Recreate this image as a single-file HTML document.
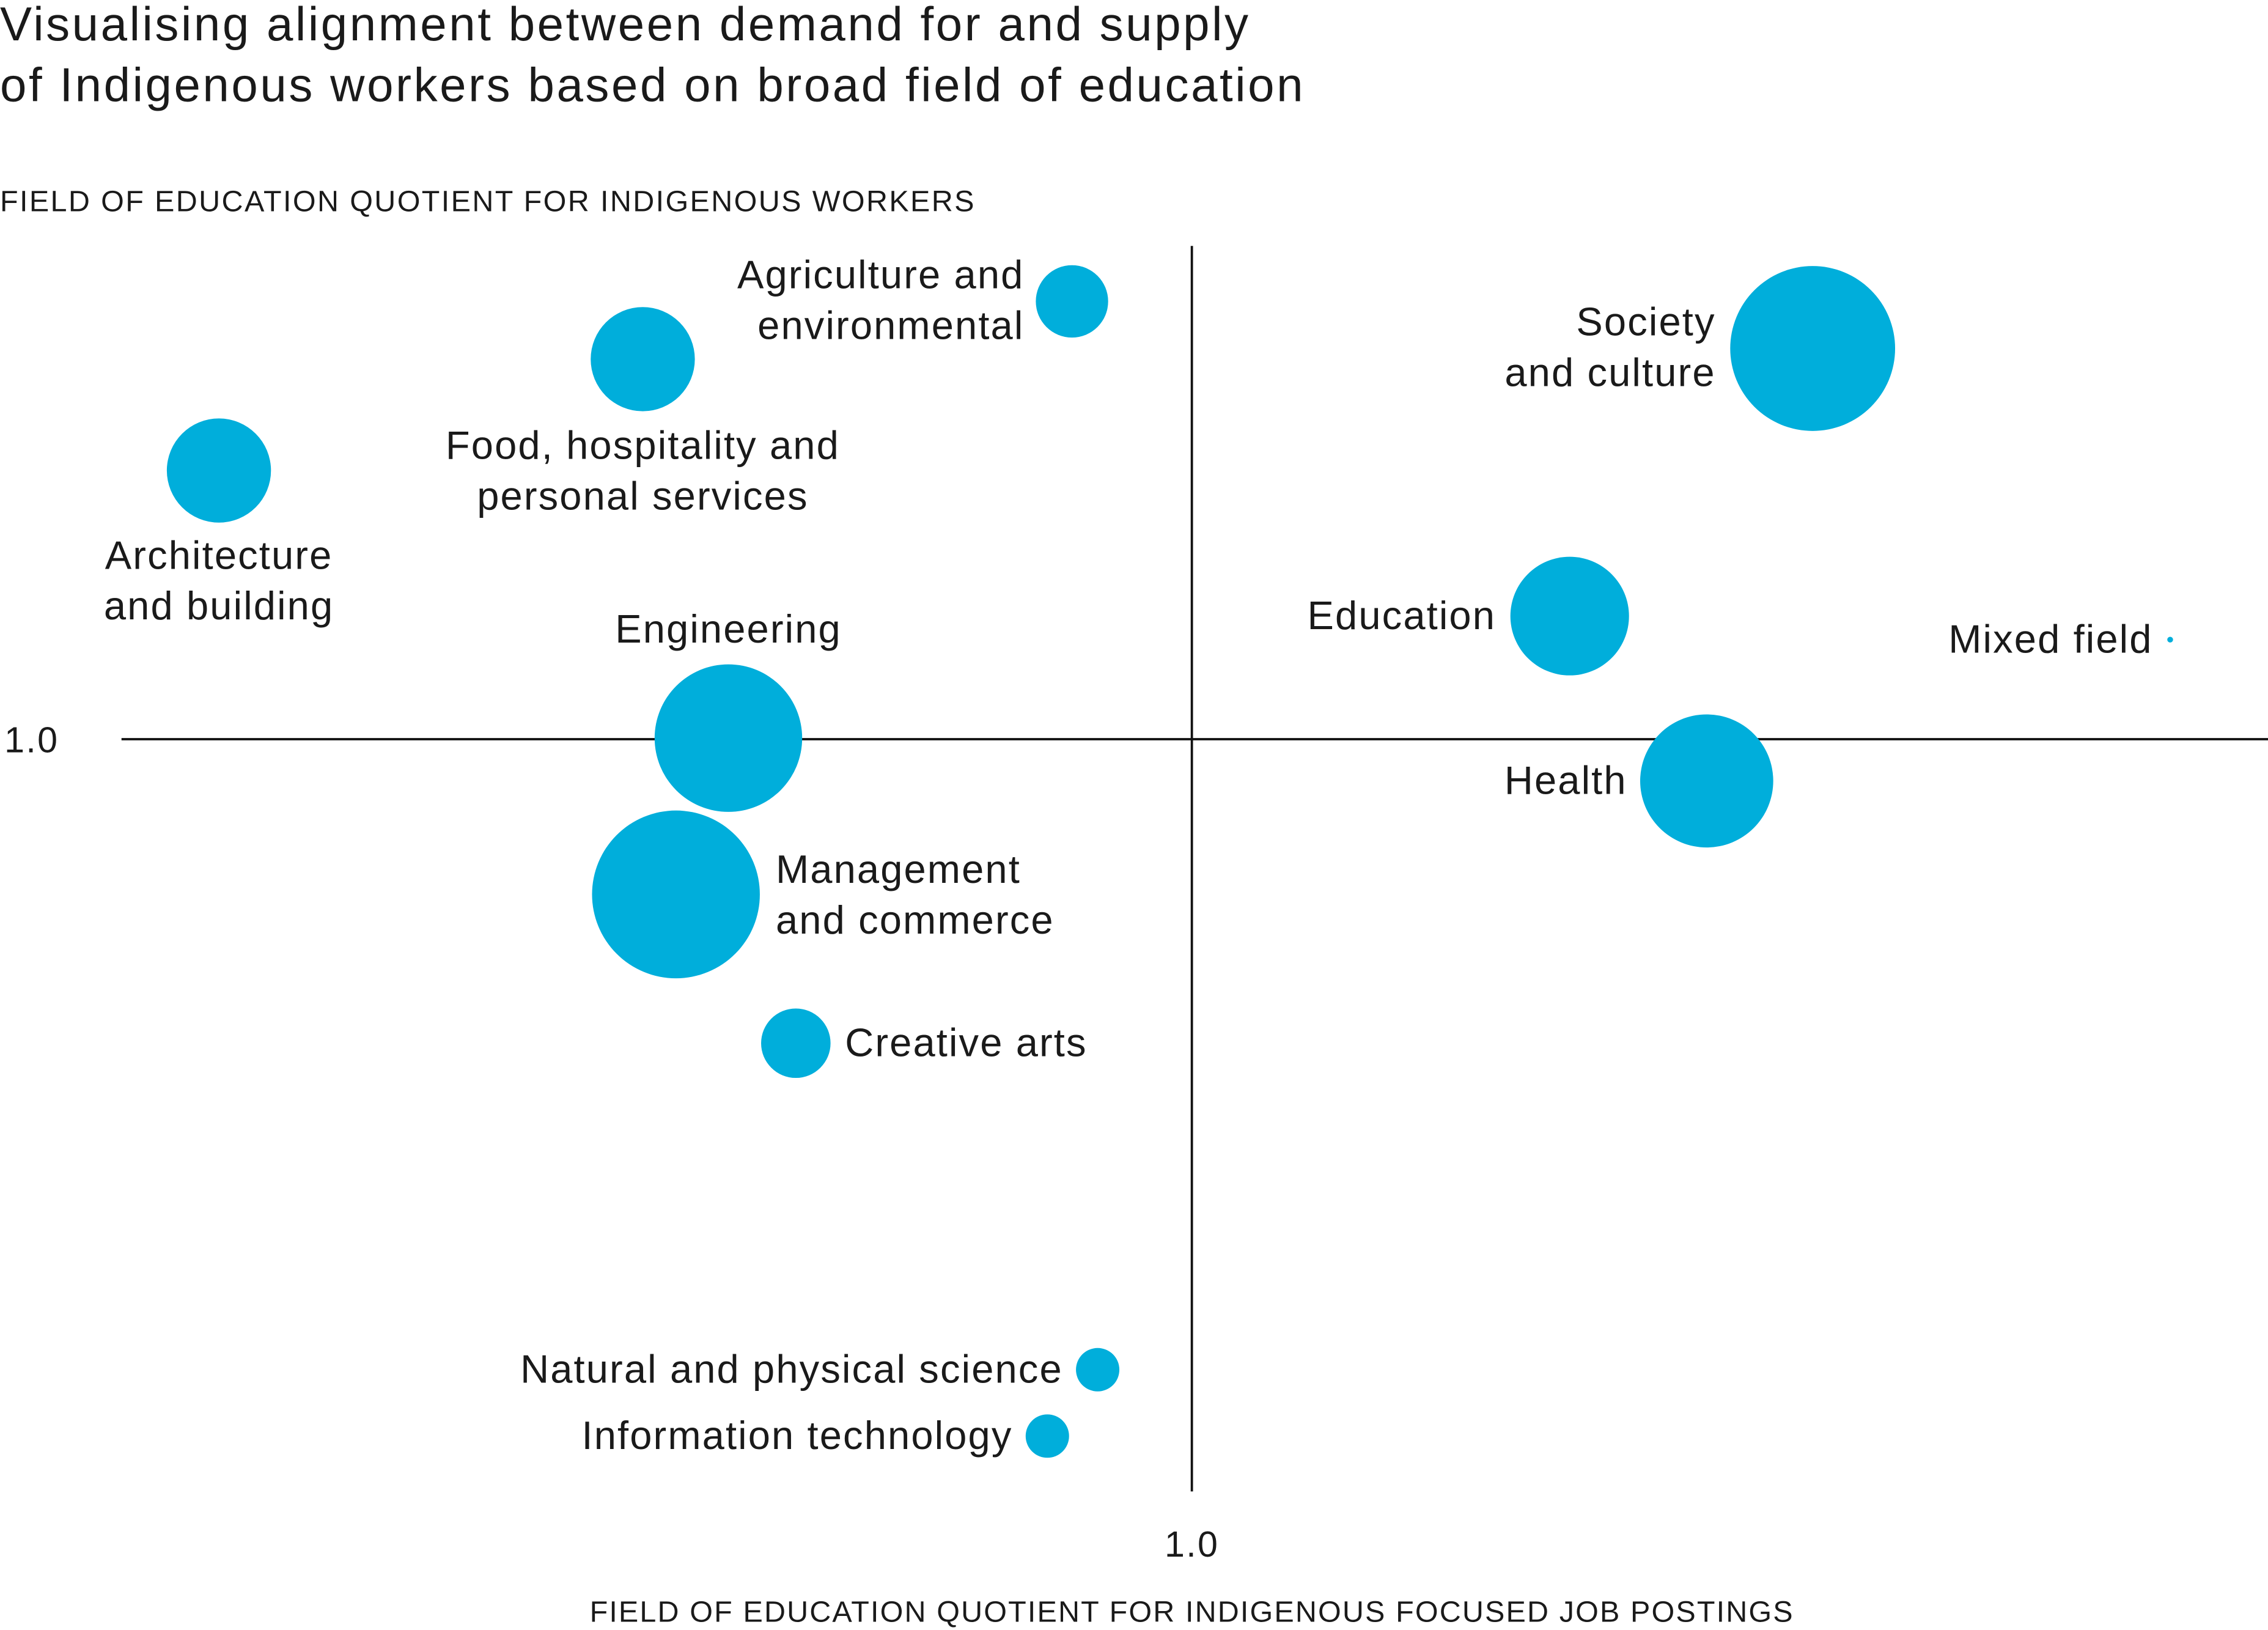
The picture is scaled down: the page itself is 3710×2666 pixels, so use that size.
<!DOCTYPE html>
<html><head><meta charset="utf-8">
<style>
html,body{margin:0;padding:0;background:#fff;}
svg{display:block;}
text{font-family:"Liberation Sans",sans-serif;fill:#1a1a1a;}
</style></head>
<body>
<svg id="chart" width="3710" height="2666" viewBox="0 0 1568 1126.8" preserveAspectRatio="none" xmlns="http://www.w3.org/2000/svg">
  <text x="0" y="28" font-size="33" letter-spacing="1.5">Visualising alignment between demand for and supply</text>
  <text x="0" y="70" font-size="33" letter-spacing="1.5">of Indigenous workers based on broad field of education</text>
  <text x="0" y="146" font-size="20.5" letter-spacing="1">FIELD OF EDUCATION QUOTIENT FOR INDIGENOUS WORKERS</text>
  <text x="824" y="1121" font-size="20.5" letter-spacing="0.9" text-anchor="middle">FIELD OF EDUCATION QUOTIENT FOR INDIGENOUS FOCUSED JOB POSTINGS</text>
  <g id="axes"></g>
  <g id="marks"></g>
  <g id="labels"></g>
</svg>
<script>
// Data (quotients; 1.0 = parity)
const categories = ["Agriculture and environmental","Food, hospitality and personal services","Architecture and building","Society and culture","Education","Mixed field","Engineering","Health","Management and commerce","Creative arts","Natural and physical science","Information technology"];
const xValues = [0.888, 0.487, 0.091, 1.580, 1.353, 1.914, 0.567, 1.481, 0.518, 0.630, 0.912, 0.865];
const yValues = [1.409, 1.355, 1.251, 1.365, 1.115, 1.093, 1.001, 0.961, 0.855, 0.716, 0.411, 0.349];
const sizes = [625, 1296, 1296, 3249, 1681, 4, 2601, 2116, 3364, 576, 225, 225];
const xTickLabels = ["1.0"];
const yTickLabels = ["1.0"];

// Layout (not data)
const labelLayout = [
  {lines:["Agriculture and","environmental"], dx:-33, dy:-18, anchor:"end"},
  {lines:["Food, hospitality and","personal services"], dx:0, dy:60, anchor:"middle"},
  {lines:["Architecture","and building"], dx:0, dy:59, anchor:"middle"},
  {lines:["Society","and culture"], dx:-67, dy:-18, anchor:"end"},
  {lines:["Education"], dx:-51, dy:0, anchor:"end"},
  {lines:["Mixed field"], dx:-12, dy:0, anchor:"end"},
  {lines:["Engineering"], dx:0, dy:-75, anchor:"middle"},
  {lines:["Health"], dx:-55, dy:0, anchor:"end"},
  {lines:["Management","and commerce"], dx:69, dy:-17, anchor:"start"},
  {lines:["Creative arts"], dx:34, dy:0, anchor:"start"},
  {lines:["Natural and physical science"], dx:-24, dy:0, anchor:"end"},
  {lines:["Information technology"], dx:-24, dy:0, anchor:"end"}
];
const NS="http://www.w3.org/2000/svg";
const x0=824, y0=511, unit=740;
function xScale(v){return x0+(v-1)*unit;}
function yScale(v){return y0-(v-1)*unit;}
function rScale(s){return Math.sqrt(s);}
function mk(tag,attrs,parent){const e=document.createElementNS(NS,tag);for(const k in attrs)e.setAttribute(k,attrs[k]);parent.appendChild(e);return e;}

const axes=document.getElementById('axes');
let hl=mk('line',{x1:84,x2:1568,y1:yScale(1),y2:yScale(1),stroke:'#111','stroke-width':1.6},axes);


let vl=mk('line',{x1:xScale(1),x2:xScale(1),y1:170,y2:1031,stroke:'#111','stroke-width':1.6},axes);


let yt=mk('text',{x:3,y:yScale(1)+9,'font-size':25,'letter-spacing':1},axes);
yt.textContent=yTickLabels[0];


let xt=mk('text',{x:xScale(1),y:1076,'font-size':25,'text-anchor':'middle','letter-spacing':1},axes);
xt.textContent=xTickLabels[0];



const marks=document.getElementById('marks'), labels=document.getElementById('labels');
categories.forEach((c,i)=>{
  const cx=xScale(xValues[i]), cy=yScale(yValues[i]);
  const circ=mk('circle',{cx:cx,cy:cy,r:rScale(sizes[i]),fill:'#00AEDB'},marks);
  
  
  const L=labelLayout[i];
  const t=mk('text',{x:cx+L.dx,y:cy+L.dy+9,'font-size':27.5,'letter-spacing':0.9,'text-anchor':L.anchor},labels);
  
  
  L.lines.forEach((ln,j)=>{
    const ts=mk('tspan',{x:cx+L.dx,dy:j===0?0:35},t);
    ts.textContent=ln;
  });
});
</script>
</body></html>
